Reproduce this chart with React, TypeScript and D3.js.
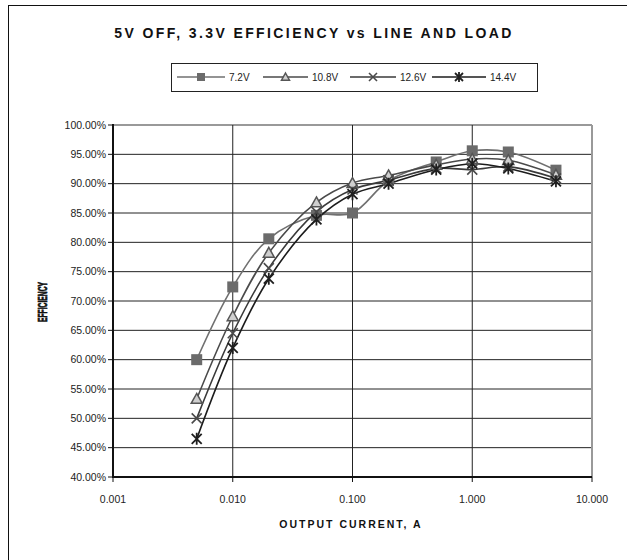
import React, { useEffect, useRef } from "react";
import * as d3 from "d3";

// output current (A) and efficiency (%) per input voltage
const currents = [0.005, 0.01, 0.02, 0.05, 0.1, 0.2, 0.5, 1, 2, 5];
const eff72 = [60.0, 72.4, 80.6, 84.6, 85.0, 90.5, 93.7, 95.6, 95.4, 92.3];
const eff108 = [53.3, 67.4, 78.2, 86.8, 90.1, 91.4, 93.2, 94.2, 94.0, 91.5];
const eff126 = [50.0, 64.5, 75.6, 85.2, 89.0, 90.6, 92.6, 92.4, 92.9, 90.9];
const eff144 = [46.5, 62.0, 73.8, 83.9, 88.2, 90.0, 92.4, 93.4, 92.6, 90.4];
const seriesNames = ["7.2V", "10.8V", "12.6V", "14.4V"];
const yTicks = [40, 45, 50, 55, 60, 65, 70, 75, 80, 85, 90, 95, 100];
const xTicks = [0.001, 0.01, 0.1, 1, 10];

const font = "'Liberation Sans', Arial, sans-serif";

function drawMarker(g, kind, cx, cy, s) {
  const h = s / 2;
  if (kind === 0) {
    g.append("rect")
      .attr("x", cx - h).attr("y", cy - h)
      .attr("width", s).attr("height", s)
      .attr("fill", "#6b6b6b");
  } else if (kind === 1) {
    g.append("path")
      .attr("d", `M${cx},${cy - h}L${cx + h},${cy + h * 0.8}L${cx - h},${cy + h * 0.8}Z`)
      .attr("fill", "#cfcfcf").attr("stroke", "#555").attr("stroke-width", 1.5);
  } else if (kind === 2) {
    g.append("path")
      .attr("d", `M${cx - h},${cy - h}L${cx + h},${cy + h}M${cx - h},${cy + h}L${cx + h},${cy - h}`)
      .attr("stroke", "#4a4a4a").attr("stroke-width", 1.6).attr("fill", "none");
  } else {
    g.append("path")
      .attr("d", `M${cx - h},${cy - h}L${cx + h},${cy + h}M${cx - h},${cy + h}L${cx + h},${cy - h}M${cx},${cy - h - 1}L${cx},${cy + h + 1}`)
      .attr("stroke", "#1f1f1f").attr("stroke-width", 1.8).attr("fill", "none");
  }
}

export default function App() {
  const svgRef = useRef(null);

  useEffect(() => {
    const svg = d3.select(svgRef.current);
    svg.selectAll("*").remove();

    const left = 113, right = 592, top = 125, bottom = 477;
    const x = d3.scaleLog().domain([0.001, 10]).range([left, right]);
    const y = d3.scaleLinear().domain([40, 100]).range([bottom, top]);

    // outer frame
    svg.append("rect")
      .attr("x", 8.5).attr("y", 5.5).attr("width", 700).attr("height", 700)
      .attr("fill", "none").attr("stroke", "#111").attr("stroke-width", 1);

    svg.append("text")
      .attr("x", 314).attr("y", 38)
      .attr("text-anchor", "middle")
      .style("font-family", font).style("font-weight", "bold")
      .style("font-size", "14px").style("letter-spacing", "2.4px")
      .attr("fill", "#111")
      .text("5V OFF, 3.3V EFFICIENCY vs LINE AND LOAD");

    // gridlines
    svg.append("g").selectAll("line")
      .data(yTicks)
      .join("line")
      .attr("x1", left).attr("x2", right)
      .attr("y1", (d) => y(d)).attr("y2", (d) => y(d))
      .attr("stroke", (d) => (d === 100 ? "#999" : "#222"))
      .attr("stroke-width", (d) => (d === 100 ? 2 : 1));
    svg.append("g").selectAll("line")
      .data(xTicks.slice(1, -1))
      .join("line")
      .attr("x1", (d) => x(d)).attr("x2", (d) => x(d))
      .attr("y1", top).attr("y2", bottom)
      .attr("stroke", "#222").attr("stroke-width", 1);
    svg.append("line")
      .attr("x1", right).attr("x2", right).attr("y1", top).attr("y2", bottom)
      .attr("stroke", "#999").attr("stroke-width", 2);

    // axes
    svg.append("line")
      .attr("x1", left).attr("x2", left).attr("y1", top - 1).attr("y2", bottom + 1)
      .attr("stroke", "#111").attr("stroke-width", 2);
    svg.append("line")
      .attr("x1", left).attr("x2", right).attr("y1", bottom).attr("y2", bottom)
      .attr("stroke", "#111").attr("stroke-width", 2);
    svg.append("g").selectAll("line")
      .data(yTicks)
      .join("line")
      .attr("x1", left - 5).attr("x2", left)
      .attr("y1", (d) => y(d)).attr("y2", (d) => y(d))
      .attr("stroke", "#111");
    svg.append("g").selectAll("line")
      .data(xTicks)
      .join("line")
      .attr("x1", (d) => x(d)).attr("x2", (d) => x(d))
      .attr("y1", bottom).attr("y2", bottom + 5)
      .attr("stroke", "#111");

    const fmtY = d3.format(".2f");
    svg.append("g").selectAll("text")
      .data(yTicks)
      .join("text")
      .attr("x", left - 7).attr("y", (d) => y(d))
      .attr("dy", "0.35em").attr("text-anchor", "end")
      .style("font-family", font).style("font-size", "10.5px")
      .attr("fill", "#222")
      .text((d) => `${fmtY(d)}%`);
    const fmtX = d3.format(".3f");
    svg.append("g").selectAll("text")
      .data(xTicks)
      .join("text")
      .attr("x", (d) => x(d)).attr("y", 503)
      .attr("text-anchor", "middle")
      .style("font-family", font).style("font-size", "10.5px")
      .attr("fill", "#222")
      .text((d) => fmtX(d));

    svg.append("text")
      .attr("x", 351).attr("y", 528)
      .attr("text-anchor", "middle")
      .style("font-family", font).style("font-weight", "bold")
      .style("font-size", "10.5px").style("letter-spacing", "2px")
      .attr("fill", "#111")
      .text("OUTPUT CURRENT, A");

    svg.append("text")
      .attr("transform", "translate(47,302) rotate(-90)")
      .attr("text-anchor", "middle")
      .attr("textLength", 40).attr("lengthAdjust", "spacingAndGlyphs")
      .style("font-family", font).style("font-weight", "900")
      .style("font-size", "13px")
      .attr("fill", "#111").attr("stroke", "#111").attr("stroke-width", 0.7)
      .text("EFFICIENCY");

    // series
    const all = [eff72, eff108, eff126, eff144];
    const lineColors = ["#707070", "#4a4a4a", "#3a3a3a", "#1c1c1c"];
    const sizes = [11, 11, 10, 10];
    const line = d3.line()
      .x((d) => x(d[0]))
      .y((d) => y(d[1]))
      .curve(d3.curveCatmullRom);

    all.forEach((vals, i) => {
      const pts = currents.map((c, j) => [c, vals[j]]);
      svg.append("path")
        .datum(pts)
        .attr("d", line)
        .attr("fill", "none")
        .attr("stroke", lineColors[i])
        .attr("stroke-width", 1.6);
    });
    all.forEach((vals, i) => {
      const g = svg.append("g");
      currents.forEach((c, j) => drawMarker(g, i, x(c), y(vals[j]), sizes[i]));
    });

    // legend
    svg.append("rect")
      .attr("x", 171.5).attr("y", 63.5).attr("width", 366).attr("height", 28)
      .attr("fill", "#fff").attr("stroke", "#222").attr("stroke-width", 1);
    const legX = [177, 263, 350, 432];
    const legW = [48, 45, 46, 54];
    const lg = svg.append("g");
    seriesNames.forEach((name, i) => {
      const ly = 77;
      lg.append("line")
        .attr("x1", legX[i]).attr("x2", legX[i] + legW[i])
        .attr("y1", ly).attr("y2", ly)
        .attr("stroke", lineColors[i]).attr("stroke-width", 1.6);
      drawMarker(lg, i, legX[i] + legW[i] / 2, ly, 8);
      lg.append("text")
        .attr("x", legX[i] + legW[i] + 4).attr("y", ly)
        .attr("dy", "0.35em")
        .style("font-family", font).style("font-size", "10px")
        .attr("fill", "#222")
        .text(name);
    });
  }, []);

  return (
    <svg
      ref={svgRef}
      width={627}
      height={560}
      style={{ position: "absolute", left: 0, top: 0, background: "#fff" }}
    />
  );
}
